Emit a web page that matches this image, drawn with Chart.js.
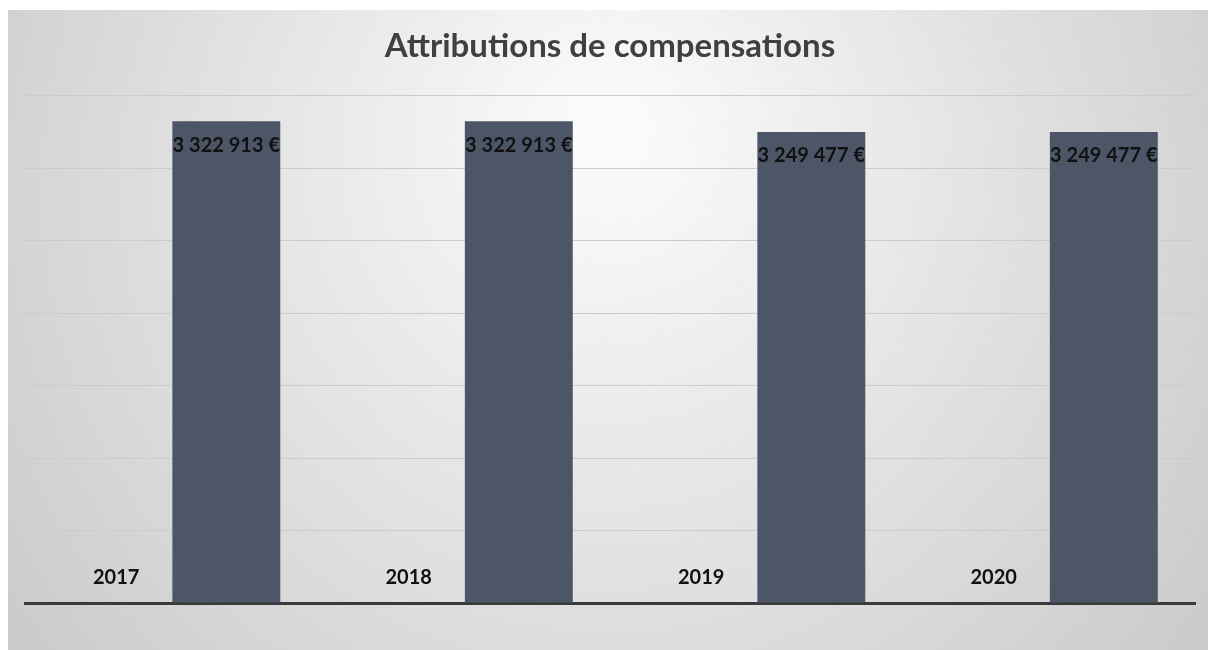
<!DOCTYPE html>
<html>
<head>
<meta charset="utf-8">
<script src="https://cdn.jsdelivr.net/npm/chart.js@4/dist/chart.umd.min.js"></script>
<style>
  html, body { margin: 0; padding: 0; background: #ffffff; }
  #wrap { position: absolute; left: 8px; top: 10px; width: 1200px; height: 640px; }
</style>
</head>
<body>
<div id="wrap"><canvas id="graphique"></canvas></div>
<script>
// Données
const annees = ['2017', '2018', '2019', '2020'];
const valeursAnnees = [2017, 2018, 2019, 2020];
const montants = [3322913, 3322913, 3249477, 3249477];
const titre = 'Attributions de compensations';

// Format français : 3 322 913 €
function formatEuro(v) {
    return String(v).replace(/\B(?=(\d{3})+(?!\d))/g, ' ') + ' €';
}

// Fond dégradé façon Excel
const fondDegrade = {
    id: 'fondDegrade',
    beforeDraw(chart) {
        const { ctx, width, height } = chart;
        const g = ctx.createRadialGradient(width / 2, 120, 20, width / 2, 200, 760);
        g.addColorStop(0, '#fbfbfb');
        g.addColorStop(1, '#c9c9c9');
        ctx.save();
        ctx.fillStyle = g;
        ctx.fillRect(0, 0, width, height);
        ctx.restore();
    }
};

// Étiquettes de données (années en bas, montants en haut des barres)
const etiquettes = {
    id: 'etiquettes',
    afterDatasetsDraw(chart) {
        const { ctx, chartArea } = chart;
        ctx.save();
        ctx.fillStyle = '#111111';
        ctx.font = 'bold 20px Lato, "DejaVu Sans", sans-serif';
        ctx.textAlign = 'center';
        ctx.textBaseline = 'middle';
        chart.getDatasetMeta(0).data.forEach((bar, i) => {
            ctx.fillText(String(valeursAnnees[i]), bar.x, chartArea.bottom - 25);
        });
        chart.getDatasetMeta(1).data.forEach((bar, i) => {
            ctx.fillText(formatEuro(montants[i]), bar.x, bar.y + 24);
        });
        ctx.restore();
    }
};

new Chart(document.getElementById('graphique'), {
    type: 'bar',
    data: {
        labels: annees,
        datasets: [
            {
                label: 'Année',
                data: valeursAnnees,
                backgroundColor: 'rgba(0,0,0,0)'
            },
            {
                label: 'Montant',
                data: montants,
                backgroundColor: '#4c5666'
            }
        ]
    },
    options: {
        responsive: true,
        maintainAspectRatio: false,
        animation: false,
        categoryPercentage: 0.753,
        barPercentage: 0.98,
        layout: { padding: { left: 17, right: 13, top: 2, bottom: 39 } },
        plugins: {
            legend: { display: false },
            tooltip: { enabled: false },
            title: {
                display: true,
                text: titre,
                color: '#404040',
                font: { family: 'Lato', size: 33, weight: 'bold' },
                padding: { top: 15, bottom: 29 }
            }
        },
        scales: {
            x: {
                grid: { display: false },
                ticks: { display: false },
                border: { display: true, color: '#3a3a3a', width: 3 }
            },
            y: {
                min: 0,
                max: 3500000,
                ticks: { display: false, stepSize: 500000 },
                grid: { color: '#cccccc', lineWidth: 1, drawTicks: false },
                border: { display: false }
            }
        }
    },
    plugins: [fondDegrade, etiquettes]
});
</script>
</body>
</html>
